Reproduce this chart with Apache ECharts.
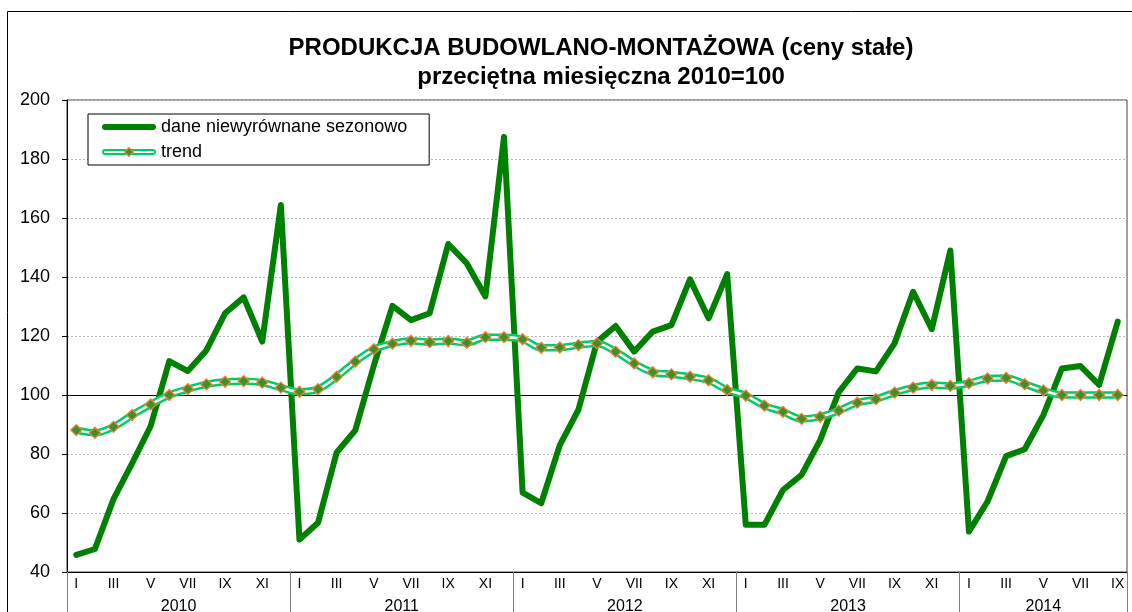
<!DOCTYPE html>
<html>
<head>
<meta charset="utf-8">
<script src="https://cdn.jsdelivr.net/npm/echarts@6.0.0/dist/echarts.min.js"></script>
<style>
  html, body { margin: 0; padding: 0; background: #fff; }
  #chart { width: 1132px; height: 612px; }
</style>
</head>
<body>
<div id="chart"></div>
<script>
// miesiące i lata
const romanMonths = ["I", "II", "III", "IV", "V", "VI", "VII", "VIII", "IX", "X", "XI", "XII"];
const years = ["2010", "2011", "2012", "2013", "2014"];
const monthsInYear = [12, 12, 12, 12, 9];

// dane niewyrównane sezonowo
const raw2010 = [45.8, 47.8, 64.7, 76.8, 89.5, 111.5, 108.1, 115.2, 127.7, 133.1, 118.1, 164.4];
const raw2011 = [51.0, 56.7, 80.5, 88.0, 110.0, 130.2, 125.4, 127.7, 151.2, 144.6, 133.4, 187.5];
const raw2012 = [66.9, 63.3, 83.0, 95.0, 118.0, 123.4, 114.7, 121.5, 123.7, 139.2, 126.0, 141.0];
const raw2013 = [56.0, 56.0, 67.8, 72.9, 84.7, 101.0, 109.0, 108.0, 117.5, 135.0, 122.3, 149.0];
const raw2014 = [53.7, 63.9, 79.3, 81.6, 93.2, 109.0, 109.8, 103.4, 124.9];

// trend
const trend2010 = [88.1, 87.2, 89.2, 93.2, 96.8, 100.0, 102.0, 103.6, 104.5, 104.7, 104.2, 102.5];
const trend2011 = [101.1, 102.0, 106.2, 111.3, 115.5, 117.4, 118.4, 117.9, 118.3, 117.7, 119.6, 119.6];
const trend2012 = [118.9, 116.0, 116.1, 116.9, 117.5, 114.7, 110.7, 107.7, 107.0, 106.2, 105.0, 101.7];
const trend2013 = [99.8, 96.4, 94.3, 91.9, 92.6, 94.7, 97.4, 98.6, 100.8, 102.5, 103.4, 103.1];
const trend2014 = [104.0, 105.6, 105.8, 103.7, 101.5, 100.0, 100.0, 100.0, 100.0];

const rawData = [].concat(raw2010, raw2011, raw2012, raw2013, raw2014);
const trendData = [].concat(trend2010, trend2011, trend2012, trend2013, trend2014);

// kategorie "rok miesiąc"
const categories = [];
years.forEach((y, i) => {
  for (let m = 0; m < monthsInYear[i]; m++) categories.push(y + " " + romanMonths[m]);
});
const totalMonths = categories.length;

// granice i środki lat (w jednostkach miesięcy)
const yearBounds = [0];
const yearMids = [];
monthsInYear.forEach((n, i) => {
  yearMids.push(yearBounds[i] + n / 2);
  yearBounds.push(yearBounds[i] + n);
});

const FONT = "'Liberation Sans', Arial, sans-serif";
const DARK = "#008000";
const LIGHT = "#00cc66";
const DIAMOND = "#3f8f2f";
const ORANGE = "#f08030";

const svgIcon = (s) => "image://data:image/svg+xml;charset=utf-8," + encodeURIComponent(s);
const iconRaw = svgIcon(
  '<svg xmlns="http://www.w3.org/2000/svg" width="54" height="10">' +
  '<line x1="3" y1="5" x2="51" y2="5" stroke="' + DARK + '" stroke-width="6" stroke-linecap="round"/></svg>'
);
const iconTrend = svgIcon(
  '<svg xmlns="http://www.w3.org/2000/svg" width="54" height="10">' +
  '<line x1="3" y1="5" x2="51" y2="5" stroke="' + LIGHT + '" stroke-width="6" stroke-linecap="round"/>' +
  '<line x1="3" y1="5" x2="51" y2="5" stroke="#fff" stroke-width="2" stroke-linecap="round"/>' +
  '<polygon points="27,0.6 31.4,5 27,9.4 22.6,5" fill="' + DIAMOND + '" stroke="' + ORANGE + '" stroke-width="1.2"/></svg>'
);

const chart = echarts.init(document.getElementById("chart"));

const option = {
  animation: false,
  textStyle: { fontFamily: FONT },
  graphic: [
    {
      type: "rect",
      silent: true,
      shape: { x: 7.5, y: 11.5, width: 1300, height: 800 },
      style: { fill: null, stroke: "#000", lineWidth: 1 }
    }
  ],
  title: {
    text: "PRODUKCJA BUDOWLANO-MONTAŻOWA (ceny stałe)\nprzeciętna miesięczna 2010=100",
    left: 601,
    top: 34,
    padding: 0,
    textAlign: "center",
    textStyle: {
      fontFamily: FONT,
      fontSize: 24,
      fontWeight: "bold",
      color: "#000",
      lineHeight: 29
    }
  },
  legend: {
    orient: "vertical",
    left: 88,
    top: 114,
    padding: [3, 22, 3, 14],
    itemWidth: 54,
    itemHeight: 10,
    itemGap: 5,
    backgroundColor: "#fff",
    borderColor: "#000",
    borderWidth: 1,
    borderRadius: 0,
    selectedMode: false,
    textStyle: { fontFamily: FONT, fontSize: 18, color: "#000", lineHeight: 20 },
    data: [
      { name: "dane niewyrównane sezonowo", icon: iconRaw },
      { name: "trend", icon: iconTrend }
    ]
  },
  grid: {
    left: 67,
    right: 5,
    top: 100,
    bottom: 40,
    outerBoundsMode: "none",
    containLabel: false,
    show: true,
    borderColor: "#404040",
    borderWidth: 1,
    backgroundColor: "transparent"
  },
  xAxis: [
    {
      // miesiące na dole
      type: "category",
      data: categories,
      position: "bottom",
      boundaryGap: true,
      axisLine: { onZero: false, lineStyle: { color: "#000", width: 1 } },
      axisTick: { interval: 0, length: 21, lineStyle: { color: "#808080" } },
      axisLabel: {
        interval: 1,
        margin: 5,
        fontFamily: FONT,
        fontSize: 14,
        color: "#000",
        formatter: (v) => v.split(" ")[1]
      },
      splitLine: { show: false }
    },
    {
      // oś przecinająca na poziomie 100
      type: "category",
      data: categories,
      position: "bottom",
      offset: -177,
      boundaryGap: true,
      axisLine: { onZero: false, lineStyle: { color: "#000", width: 1 } },
      axisTick: { interval: 0, length: 5, lineStyle: { color: "#000" } },
      axisLabel: { show: false },
      splitLine: { show: false }
    },
    {
      // lata
      type: "value",
      min: 0,
      max: totalMonths,
      position: "bottom",
      axisLine: { show: false, onZero: false },
      axisTick: {
        show: true,
        customValues: yearBounds,
        length: 42,
        lineStyle: { color: "#808080" }
      },
      axisLabel: {
        show: true,
        customValues: yearMids,
        margin: 27,
        fontFamily: FONT,
        fontSize: 16,
        color: "#000",
        formatter: (v) => years[yearMids.indexOf(v)] || ""
      },
      splitLine: { show: false }
    }
  ],
  yAxis: {
    type: "value",
    min: 40,
    max: 200,
    interval: 20,
    axisLine: { show: true, lineStyle: { color: "#000" } },
    axisTick: { show: true, length: 5, lineStyle: { color: "#000" } },
    axisLabel: { margin: 17, fontFamily: FONT, fontSize: 18, color: "#000" },
    splitLine: { show: true, lineStyle: { color: "#b8b8b8", type: [2, 2], width: 1 } }
  },
  series: [
    {
      name: "dane niewyrównane sezonowo",
      type: "line",
      data: rawData,
      z: 2,
      showSymbol: false,
      symbol: "none",
      lineStyle: { color: DARK, width: 6, cap: "round", join: "round" },
      itemStyle: { color: DARK }
    },
    {
      name: "trend-outer",
      type: "line",
      data: trendData,
      z: 3,
      smooth: 0.35,
      symbol: "none",
      silent: true,
      lineStyle: { color: LIGHT, width: 7.5, join: "round" }
    },
    {
      name: "trend-inner",
      type: "line",
      data: trendData,
      z: 4,
      smooth: 0.35,
      symbol: "none",
      silent: true,
      lineStyle: { color: "#fff", width: 2.5, join: "round" }
    },
    {
      name: "trend",
      type: "line",
      data: trendData,
      z: 5,
      symbol: "diamond",
      symbolSize: 11,
      showAllSymbol: true,
      lineStyle: { opacity: 0, width: 0 },
      itemStyle: { color: DIAMOND, borderColor: ORANGE, borderWidth: 1.3 }
    }
  ]
};

chart.setOption(option);
</script>
</body>
</html>
